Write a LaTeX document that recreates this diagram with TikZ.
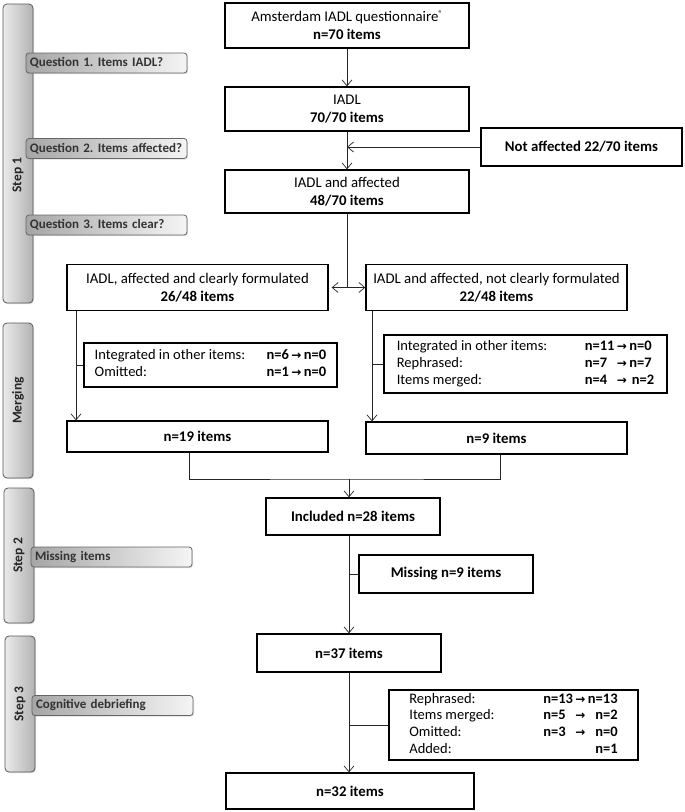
\documentclass[tikz,border=0pt]{standalone}
\usepackage{fontspec}
\setmainfont{Carlito}
\newfontfamily\symfont{DejaVu Sans}
\usetikzlibrary{positioning}
\usetikzlibrary{shadows}
\usepgflibrary{arrows.meta}
\newcommand{\narr}{{\symfont\bfseries\fontsize{12}{12}\selectfont →}}
\frenchspacing

\begin{document}
\begin{tikzpicture}[x=1pt,y=-1pt,
    box/.style={draw=black, line width=1.3pt, fill=white, inner sep=0pt, align=center,
      font=\fontsize{14.8}{18}\selectfont},
    mergebox/.style={draw=black, line width=1.3pt, fill=white, inner sep=0pt,
      font=\fontsize{14.5}{16.8}\selectfont},
    stepbar/.style={draw=black!65, line width=0.8pt, rounded corners=4pt,
      left color=black!8, right color=black!30, minimum width=30pt, inner sep=0pt,
      drop shadow={opacity=0.25, shadow xshift=1pt, shadow yshift=-1.2pt}},
    steplabel/.style={rotate=90, font=\fontsize{13.5}{14}\selectfont\bfseries, text=black!85},
    qbox/.style={draw=black!60, line width=0.8pt, rounded corners=3pt,
      left color=black!35, right color=black!4, minimum width=161pt, minimum height=20pt,
      text width=153pt, align=left, inner sep=0pt,
      font=\fontsize{13}{13}\selectfont\bfseries, text=black!80,
      drop shadow={opacity=0.25, shadow xshift=1pt, shadow yshift=-1.2pt}},
    conn/.style={line width=0.7pt, black!85},
    tip/.style={-{Straight Barb[length=6pt,width=10pt,line width=0.7pt]}}]

  \useasboundingbox (0,0) rectangle (685,812);

  \node[stepbar, minimum height=299pt] (step1) at (18,153.5) {};
  \node[stepbar, minimum height=155pt] (merging) at (18,400.5) {};
  \node[stepbar, minimum height=135pt] (step2) at (19,555.5) {};
  \node[stepbar, minimum height=136pt] (step3) at (20,704) {};
  \node[steplabel] (step1lbl) at (18,175) {Step 1};
  \node[steplabel] (merginglbl) at (merging) {Merging};
  \node[steplabel] (step2lbl) at (step2) {Step 2};
  \node[steplabel] (step3lbl) at (step3) {Step 3};

  \node[qbox] (q1) at (106.5,63) {Question 1. Items IADL?};
  \node[qbox] (q2) at (106.5,148.5) {Question 2. Items affected?};
  \node[qbox] (q3) at (106.5,225) {Question 3. Items clear?};
  \node[qbox] (qmiss) at (111.5,557) {Missing items};
  \node[qbox] (qdebrief) at (112.5,705.5) {Cognitive debriefing};

  \node[box, minimum width=244pt, minimum height=45pt] (quest) at (347,25.5)
    {Amsterdam IADL questionnaire\raisebox{5pt}{\fontsize{8.5}{8.5}\selectfont\textregistered}\\\textbf{n=70 items}};
  \node[box, minimum width=244pt, minimum height=44pt] (iadl) at (347,109)
    {IADL\\\textbf{70/70 items}};
  \node[box, minimum width=201pt, minimum height=38pt] (notaff) at (581.5,147)
    {\textbf{Not affected 22/70 items}};
  \node[box, minimum width=244pt, minimum height=43pt] (aff) at (347,191.5)
    {IADL and affected\\\textbf{48/70 items}};

  \node[box, minimum width=261pt, minimum height=46pt] (clear) at (197.5,287.5)
    {IADL, affected and clearly formulated\\\textbf{26/48 items}};
  \node[box, minimum width=261pt, minimum height=46pt] (unclear) at (496.5,287.5)
    {IADL and affected, not clearly formulated\\\textbf{22/48 items}};

  \node[mergebox, minimum width=253pt, minimum height=44pt] (mergeL) at (210.5,365)
    {\begin{tabular}{@{}p{172pt}@{}l@{\,}c@{\,}l@{}}
      Integrated in other items: & \textbf{n=6} & \narr & \textbf{n=0}\\
      Omitted: & \textbf{n=1} & \narr & \textbf{n=0}
    \end{tabular}};
  \node[mergebox, minimum width=283pt, minimum height=58pt] (mergeR) at (525.5,364)
    {\begin{tabular}{@{}p{188pt}@{}l@{\,}c@{\,}l@{}}
      Integrated in other items: & \textbf{n=11} & \narr & \textbf{n=0}\\
      Rephrased: & \textbf{n=7} & \narr & \textbf{n=7}\\
      Items merged: & \textbf{n=4} & \narr & \textbf{\,n=2}
    \end{tabular}};

  \node[box, minimum width=261pt, minimum height=31pt] (n19) at (197.5,436.5)
    {\textbf{n=19 items}};
  \node[box, minimum width=261pt, minimum height=32pt] (n9) at (496.5,438)
    {\textbf{n=9 items}};

  \node[box, minimum width=174pt, minimum height=37pt] (incl) at (353,516.5)
    {\textbf{Included n=28 items}};
  \node[box, minimum width=174pt, minimum height=38pt] (missing) at (446,574)
    {\textbf{Missing n=9 items}};
  \node[box, minimum width=184pt, minimum height=38pt] (n37) at (349,653)
    {\textbf{n=37 items}};
  \node[mergebox, minimum width=249pt, minimum height=70pt] (debrief) at (513.5,725)
    {\begin{tabular}{@{}p{134pt}@{}l@{\,}c@{\,}r@{}}
      Rephrased: & \textbf{n=13} & \narr & \textbf{n=13}\\
      Items merged: & \textbf{n=5} & \narr & \textbf{n=2}\\
      Omitted: & \textbf{n=3} & \narr & \textbf{n=0}\\
      Added: & & & \textbf{n=1}
    \end{tabular}\hspace{8pt}};
  \node[box, minimum width=248pt, minimum height=36pt] (n32) at (350,791)
    {\textbf{n=32 items}};

  \coordinate (lx) at (76,0);
  \coordinate (rx) at (372,0);
  \coordinate (mj) at (349,479);

  \draw[conn,tip] (quest.south) -- (iadl.north);
  \draw[conn,tip] (iadl.south) -- (aff.north);
  \draw[conn,tip] (notaff.west) -- (notaff.west -| iadl.south);
  \draw[conn] (aff.south) -- (aff.south |- clear.east);
  \draw[conn,{Straight Barb[length=6pt,width=10pt,line width=0.7pt]}-{Straight Barb[length=6pt,width=10pt,line width=0.7pt]}]
    ([xshift=3pt]clear.east) -- (unclear.west);

  \draw[conn,tip] (clear.south -| lx) -- (n19.north -| lx);
  \draw[conn] (mergeL.west -| lx) -- (mergeL.west);
  \draw[conn,tip] (unclear.south -| rx) -- (n9.north -| rx);
  \draw[conn] (mergeR.west -| rx) -- (mergeR.west);

  \draw[conn] ([xshift=-8pt]n19.south) |- (mj) -| ([xshift=3.5pt]n9.south);
  \draw[conn,tip] (mj) -- (mj |- incl.north);
  \draw[conn,tip] (incl.south -| mj) -- (n37.north -| mj);
  \draw[conn] (missing.west -| mj) -- (missing.west);
  \draw[conn,tip] (n37.south) -- (n37.south |- n32.north);
  \draw[conn] (debrief.west -| n37.south) -- (debrief.west);
\end{tikzpicture}
\end{document}
